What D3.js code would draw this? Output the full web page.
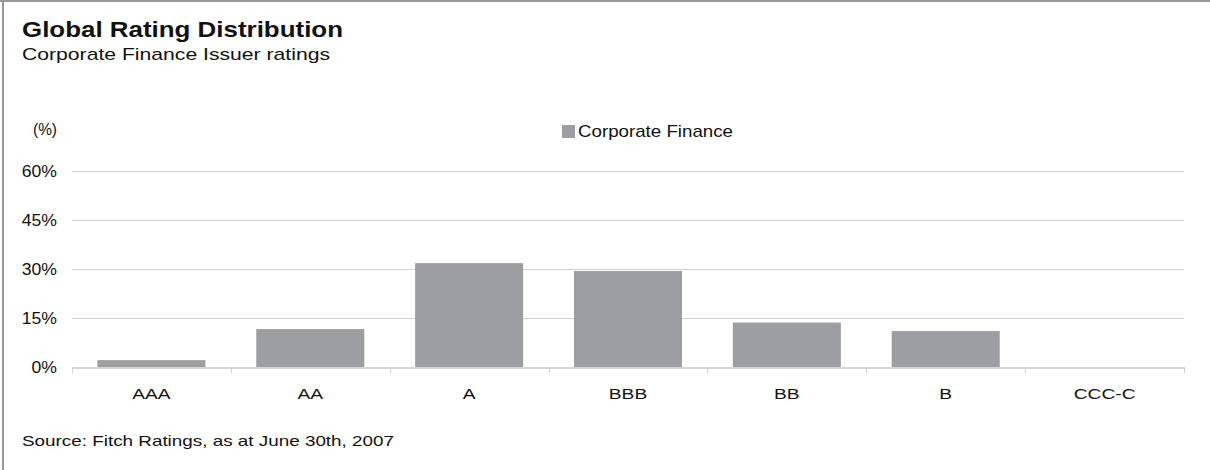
<!DOCTYPE html>
<html lang="en">
<head>
    <meta charset="UTF-8"/>
    <title>Global Rating Distribution</title>
    <script src="https://d3js.org/d3.v7.min.js"></script>
    <style>
        body { margin: 0; background: #fff; }
        svg text { font-family: "Liberation Sans", Arial, sans-serif; fill: #111; }
    </style>
</head>
<body>
    <div id="chart"></div>

    <script>
        var ratings = ["AAA", "AA", "A", "BBB", "BB", "B", "CCC-C"];
        var corporateFinance = [2.1, 11.6, 31.8, 29.4, 13.6, 11.0, 0];
        var yTicks = [0, 15, 30, 45, 60];

        var w = 1210;
        var h = 470;
        // note: "top" is taken by window.top, so plot edges get their own names
        var plotLeft = 72, plotRight = 1184, plotTop = 171, plotBottom = 367;

        var svg = d3.select("#chart")
                    .append("svg")
                    .attr("width", w)
                    .attr("height", h);

        // frame (top and left edges only)
        svg.append("rect").attr("x", 0).attr("y", 0).attr("width", w).attr("height", 2).attr("fill", "#999");
        svg.append("rect").attr("x", 2).attr("y", 0).attr("width", 2).attr("height", h).attr("fill", "#999");

        svg.append("text").attr("x", 22).attr("y", 37)
            .style("font-size", "22px").style("font-weight", "bold")
            .attr("textLength", 321).attr("lengthAdjust", "spacingAndGlyphs")
            .text("Global Rating Distribution");
        svg.append("text").attr("x", 22).attr("y", 60)
            .style("font-size", "17px")
            .attr("textLength", 308).attr("lengthAdjust", "spacingAndGlyphs")
            .text("Corporate Finance Issuer ratings");

        var xScale = d3.scaleBand()
                        .domain(ratings)
                        .range([plotLeft, plotRight])
                        .paddingInner(0.32)
                        .paddingOuter(0.16);

        var yScale = d3.scaleLinear()
                        .domain([0, 60])
                        .range([plotBottom, plotTop]);

        // gridlines
        svg.selectAll(".grid")
            .data(yTicks.filter(function(d) { return d > 0; }))
            .enter()
            .append("line")
            .attr("class", "grid")
            .attr("x1", plotLeft).attr("x2", plotRight)
            .attr("y1", function(d) { return Math.round(yScale(d)) + 0.5; })
            .attr("y2", function(d) { return Math.round(yScale(d)) + 0.5; })
            .attr("stroke", "#d2d2d2")
            .attr("stroke-width", 1);

        svg.selectAll(".ylab")
            .data(yTicks)
            .enter()
            .append("text")
            .attr("class", "ylab")
            .attr("transform", function(d) { return "translate(57," + (yScale(d) + 6) + ") scale(1.1,1)"; })
            .attr("text-anchor", "end")
            .style("font-size", "16px")
            .text(function(d) { return d + "%"; });

        svg.append("text").attr("x", 33).attr("y", 135)
            .style("font-size", "16px")
            .attr("textLength", 24).attr("lengthAdjust", "spacingAndGlyphs")
            .text("(%)");

        svg.selectAll(".bar")
            .data(corporateFinance)
            .enter()
            .append("rect")
            .attr("class", "bar")
            .attr("x", function(d, i) { return xScale(ratings[i]); })
            .attr("y", function(d) { return yScale(d); })
            .attr("width", xScale.bandwidth())
            .attr("height", function(d) { return plotBottom - yScale(d); })
            .attr("fill", "#9d9ea1");

        // x axis line and category separators
        var boundaries = d3.range(ratings.length + 1).map(function(i) {
            return plotLeft + i * (plotRight - plotLeft) / ratings.length;
        });
        svg.append("line")
            .attr("x1", plotLeft).attr("x2", plotRight)
            .attr("y1", plotBottom + 1).attr("y2", plotBottom + 1)
            .attr("stroke", "#d6d6d6").attr("stroke-width", 2);
        svg.selectAll(".xtick")
            .data(boundaries)
            .enter()
            .append("line")
            .attr("class", "xtick")
            .attr("x1", function(d) { return Math.round(d) + 0.5; })
            .attr("x2", function(d) { return Math.round(d) + 0.5; })
            .attr("y1", plotBottom).attr("y2", plotBottom + 6)
            .attr("stroke", "#d0d0d0").attr("stroke-width", 1);

        svg.selectAll(".xlab")
            .data(ratings)
            .enter()
            .append("text")
            .attr("class", "xlab")
            .attr("transform", function(d) {
                return "translate(" + (xScale(d) + xScale.bandwidth() / 2) + ",399) scale(1.28,1)";
            })
            .attr("text-anchor", "middle")
            .style("font-size", "15px")
            .text(function(d) { return d; });

        // legend
        svg.append("rect").attr("x", 562).attr("y", 125).attr("width", 13).attr("height", 13).attr("fill", "#9d9ea1");
        svg.append("text").attr("x", 578).attr("y", 137)
            .style("font-size", "17px")
            .attr("textLength", 155).attr("lengthAdjust", "spacingAndGlyphs")
            .text("Corporate Finance");

        svg.append("text").attr("x", 22).attr("y", 446)
            .style("font-size", "15px")
            .attr("textLength", 372).attr("lengthAdjust", "spacingAndGlyphs")
            .text("Source: Fitch Ratings, as at June 30th, 2007");
    </script>
</body>
</html>
